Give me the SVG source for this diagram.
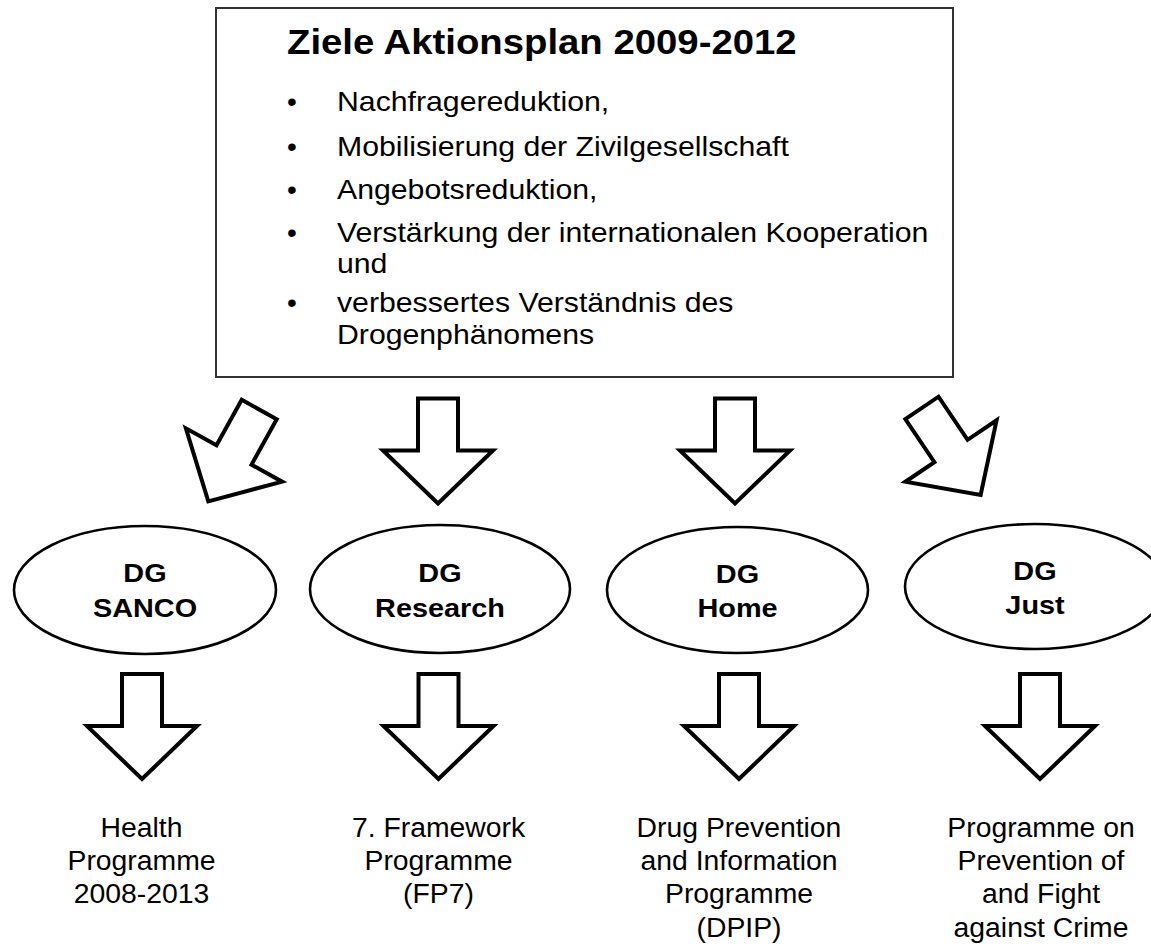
<svg xmlns="http://www.w3.org/2000/svg" xmlns:xlink="http://www.w3.org/1999/xlink" width="1151" height="948" viewBox="0 0 1151 948">
  <style>
    .bg { fill: #ffffff; }
    .box { fill: #ffffff; stroke: #333333; stroke-width: 2; }
    .ell { fill: #ffffff; stroke: #000000; stroke-width: 2.6; }
    .arrow { fill: #ffffff; stroke: #000000; stroke-width: 4; stroke-linejoin: miter; }
    .title { font-family: "Liberation Sans", Arial, sans-serif; font-weight: bold; font-size: 35px; fill: #000000; }
    .body { font-family: "Liberation Sans", Arial, sans-serif; font-size: 28px; fill: #000000; }
    .dg { font-family: "Liberation Sans", Arial, sans-serif; font-weight: bold; font-size: 26px; fill: #000000; text-anchor: middle; }
    .prog { font-family: "Liberation Sans", Arial, sans-serif; font-size: 27px; fill: #000000; text-anchor: middle; }
  </style>
  <defs>
    <path id="blk" d="M-20,-52 H20 V0 H55 L0,53 L-55,0 H-20 Z"/>
  </defs>
  <rect class="bg" x="0" y="0" width="1151" height="948"/>

  <g id="goals">
    <rect class="box" x="216" y="8" width="737" height="369"/>
    <text class="title" transform="translate(287,54) scale(1.095,1)">Ziele Aktionsplan 2009-2012</text>
    <g class="body">
      <text x="292" y="111" text-anchor="middle">•</text>
      <text transform="translate(337,111) scale(1.08,1)">Nachfragereduktion,</text>
      <text x="292" y="156" text-anchor="middle">•</text>
      <text transform="translate(337,156) scale(1.08,1)">Mobilisierung der Zivilgesellschaft</text>
      <text x="292" y="199" text-anchor="middle">•</text>
      <text transform="translate(337,199) scale(1.08,1)">Angebotsreduktion,</text>
      <text x="292" y="242" text-anchor="middle">•</text>
      <text transform="translate(337,242) scale(1.08,1)">Verstärkung der internationalen Kooperation</text>
      <text transform="translate(337,273) scale(1.08,1)">und</text>
      <text x="292" y="312" text-anchor="middle">•</text>
      <text transform="translate(337,312) scale(1.08,1)">verbessertes Verständnis des</text>
      <text transform="translate(337,344) scale(1.08,1)">Drogenphänomens</text>
    </g>
  </g>

  <g id="connectors">
    <use href="#blk" class="arrow" transform="translate(234,455) rotate(29)"/>
    <use href="#blk" class="arrow" transform="translate(438,450.5)"/>
    <use href="#blk" class="arrow" transform="translate(735,450.5)"/>
    <use href="#blk" class="arrow" transform="translate(951,451) rotate(-34)"/>
    <use href="#blk" class="arrow" transform="translate(142,726)"/>
    <use href="#blk" class="arrow" transform="translate(438.5,726)"/>
    <use href="#blk" class="arrow" transform="translate(739,726)"/>
    <use href="#blk" class="arrow" transform="translate(1040,726)"/>
  </g>

  <g id="dg-sanco">
    <ellipse class="ell" cx="145" cy="590" rx="131" ry="64"/>
    <text class="dg" transform="translate(145,582) scale(1.11,1)">DG</text>
    <text class="dg" transform="translate(145,617) scale(1.11,1)">SANCO</text>
  </g>
  <g id="dg-research">
    <ellipse class="ell" cx="440" cy="589" rx="130" ry="64"/>
    <text class="dg" transform="translate(440,582) scale(1.11,1)">DG</text>
    <text class="dg" transform="translate(440,617) scale(1.11,1)">Research</text>
  </g>
  <g id="dg-home">
    <ellipse class="ell" cx="737.5" cy="590" rx="130.5" ry="63"/>
    <text class="dg" transform="translate(737.5,583) scale(1.11,1)">DG</text>
    <text class="dg" transform="translate(737.5,617) scale(1.11,1)">Home</text>
  </g>
  <g id="dg-just">
    <ellipse class="ell" cx="1035" cy="586.5" rx="130" ry="62.5"/>
    <text class="dg" transform="translate(1035,580) scale(1.11,1)">DG</text>
    <text class="dg" transform="translate(1035,614) scale(1.11,1)">Just</text>
  </g>

  <g id="prog-health">
    <text class="prog" transform="translate(141.5,837) scale(1.05,1)">Health</text>
    <text class="prog" transform="translate(141.5,870) scale(1.05,1)">Programme</text>
    <text class="prog" transform="translate(141.5,903) scale(1.05,1)">2008-2013</text>
  </g>
  <g id="prog-fp7">
    <text class="prog" transform="translate(438.5,837) scale(1.05,1)">7. Framework</text>
    <text class="prog" transform="translate(438.5,870) scale(1.05,1)">Programme</text>
    <text class="prog" transform="translate(438.5,903) scale(1.05,1)">(FP7)</text>
  </g>
  <g id="prog-dpip">
    <text class="prog" transform="translate(739,837) scale(1.05,1)">Drug Prevention</text>
    <text class="prog" transform="translate(739,870) scale(1.05,1)">and Information</text>
    <text class="prog" transform="translate(739,903) scale(1.05,1)">Programme</text>
    <text class="prog" transform="translate(739,937) scale(1.05,1)">(DPIP)</text>
  </g>
  <g id="prog-crime">
    <text class="prog" transform="translate(1041,837) scale(1.05,1)">Programme on</text>
    <text class="prog" transform="translate(1041,870) scale(1.05,1)">Prevention of</text>
    <text class="prog" transform="translate(1041,903) scale(1.05,1)">and Fight</text>
    <text class="prog" transform="translate(1041,937) scale(1.05,1)">against Crime</text>
  </g>
</svg>
